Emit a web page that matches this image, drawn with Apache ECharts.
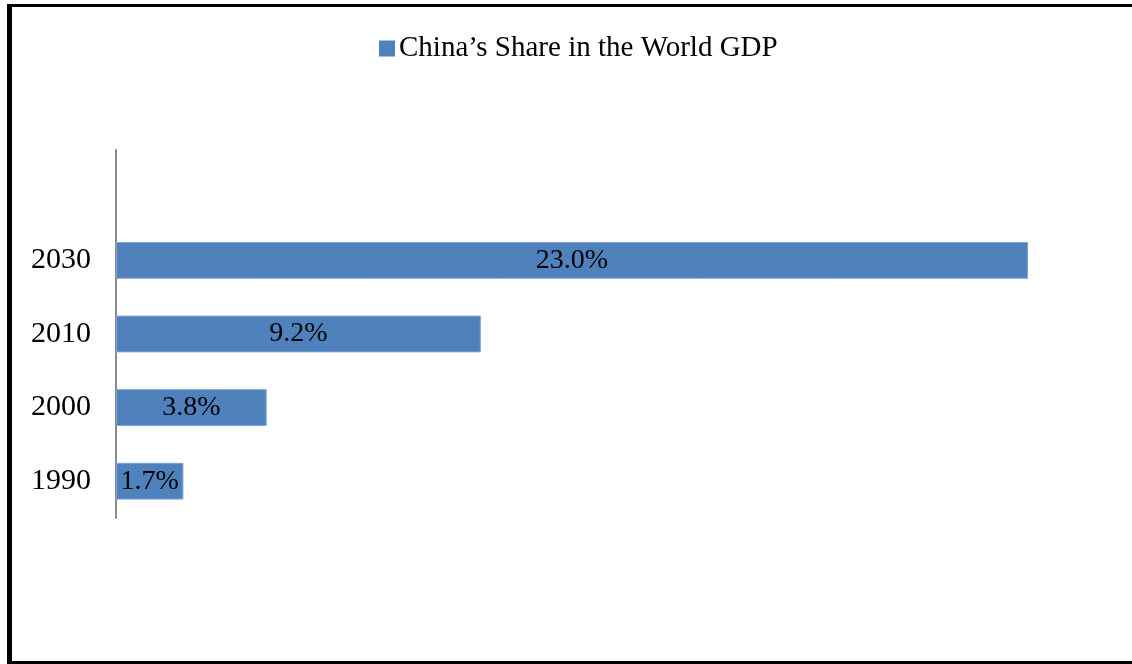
<!DOCTYPE html>
<html>
<head>
<meta charset="utf-8">
<script src="https://cdn.jsdelivr.net/npm/echarts@6/dist/echarts.min.js"></script>
<style>
  html, body { margin: 0; padding: 0; background: #fff; }
  #chart { width: 1132px; height: 664px; }
</style>
</head>
<body>
<div id="chart"></div>
<script>
// Years on the category axis (bottom to top); the last slot stays empty
const years = ['1990', '2000', '2010', '2030', ''];
// China's share of world GDP, percent
const shares = [1.7, 3.8, 9.2, 23.0, null];
const seriesName = 'China\u2019s Share in the World GDP';

const chart = echarts.init(document.getElementById('chart'));
const serif = '"Liberation Serif", "Times New Roman", serif';

chart.setOption({
  animation: false,
  backgroundColor: '#ffffff',
  legend: {
    data: [seriesName],
    top: 29,
    left: 374,
    icon: 'rect',
    itemWidth: 16,
    itemHeight: 16,
    itemGap: 5,
    itemStyle: { borderWidth: 0 },
    textStyle: { fontFamily: serif, fontSize: 29, color: '#000', padding: [0, 0, 0, -1] }
  },
  grid: { left: 116, right: 104, top: 150, bottom: 146 },
  xAxis: {
    type: 'value',
    min: 0,
    max: 23,
    show: false
  },
  yAxis: {
    type: 'category',
    data: years,
    axisLine: { show: true, lineStyle: { color: '#8c8c8c', width: 2 } },
    axisTick: { show: false },
    axisLabel: { fontFamily: serif, fontSize: 30, color: '#000', margin: 25, padding: [4, 0, 0, 0] },
    splitLine: { show: false }
  },
  series: [{
    name: seriesName,
    type: 'bar',
    data: shares,
    barWidth: '50%',
    itemStyle: { color: '#4F81BD', borderColor: '#7fa3d1', borderWidth: 1 },
    label: {
      show: true,
      position: 'inside',
      fontFamily: serif,
      fontSize: 28,
      color: '#000',
      padding: [4, 0, 0, 0],
      formatter: p => p.value.toFixed(1) + '%'
    }
  }],
  graphic: [
    { type: 'rect', shape: { x: 7, y: 4, width: 1125, height: 3 }, style: { fill: '#000' } },
    { type: 'rect', shape: { x: 7, y: 4, width: 5, height: 660 }, style: { fill: '#000' } },
    { type: 'rect', shape: { x: 7, y: 661, width: 1125, height: 3 }, style: { fill: '#000' } }
  ]
});
</script>
</body>
</html>
